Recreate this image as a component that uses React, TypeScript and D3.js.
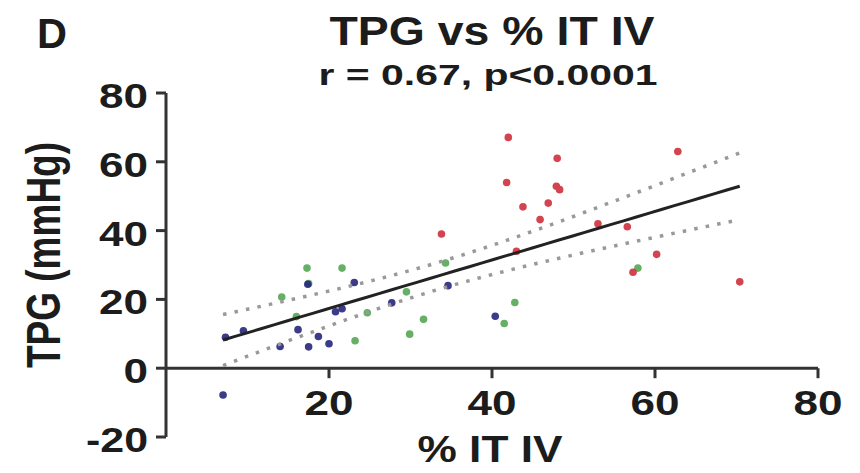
import React from "react";
import * as d3 from "d3";

// Scatter of TPG against % IT IV, three patient groups
const blueX = [7.0, 7.3, 9.5, 14.0, 16.2, 17.5, 18.7, 20.0, 20.8, 21.6, 23.1, 27.7, 34.6, 40.4, 17.4];
const blueY = [-7.8, 9.0, 10.9, 6.3, 11.2, 6.2, 9.2, 7.1, 16.4, 17.3, 24.9, 19.0, 24.0, 15.1, 24.4];

const greenX = [14.2, 16.0, 17.3, 17.5, 21.6, 23.2, 24.7, 29.5, 29.9, 31.6, 34.3, 41.5, 42.8, 57.9];
const greenY = [20.7, 15.0, 29.1, 24.6, 29.1, 8.0, 16.1, 22.2, 9.9, 14.2, 30.6, 13.0, 19.1, 29.1];

const redX = [33.8, 42.0, 41.8, 43.0, 43.8, 45.9, 46.9, 48.0, 47.9, 48.3, 53.0, 56.6, 57.3, 60.2, 62.8, 70.4];
const redY = [39.0, 67.1, 54.0, 34.0, 46.9, 43.2, 48.0, 61.0, 52.9, 51.9, 42.0, 41.1, 27.9, 33.1, 63.0, 25.1];

const xTicks = [20, 40, 60, 80];
const yTicks = [-20, 0, 20, 40, 60, 80];

const panelLabel = "D";
const title = "TPG vs % IT IV";
const subtitle = "r = 0.67, p<0.0001";
const xLabel = "% IT IV";
const yLabel = "TPG (mmHg)";

const FONT = "'Liberation Sans', Arial, Helvetica, sans-serif";
const INK = "#1c1c1c";

type Pt = [number, number];
const zip = (xs: number[], ys: number[]): Pt[] => xs.map((x, i) => [x, ys[i]]);

// tick labels are drawn horizontally widened; width per character class
const tickWidth = (label: string) =>
  label.split("").reduce((w, c) => w + (c === "-" ? 13 : 24.5), 0);

export default function App() {
  const W = 860;
  const H = 473;
  const x = d3.scaleLinear().domain([0, 80]).range([166, 818]);
  const y = d3.scaleLinear().domain([-20, 80]).range([437, 93]);

  const groups = [
    { pts: zip(greenX, greenY), color: "#55a855" },
    { pts: zip(blueX, blueY), color: "#26267e" },
    { pts: zip(redX, redY), color: "#d0303e" },
  ];

  // least-squares fit with 95% confidence band of the mean
  const all: Pt[] = groups.flatMap((g) => g.pts);
  const n = all.length;
  const mx = d3.mean(all, (d) => d[0])!;
  const my = d3.mean(all, (d) => d[1])!;
  const sxx = d3.sum(all, (d) => (d[0] - mx) ** 2);
  const sxy = d3.sum(all, (d) => (d[0] - mx) * (d[1] - my));
  const slope = sxy / sxx;
  const icpt = my - slope * mx;
  const sse = d3.sum(all, (d) => (d[1] - (icpt + slope * d[0])) ** 2);
  const s = Math.sqrt(sse / (n - 2));
  const t = 2.02;
  const [x0, x1] = d3.extent(all, (d) => d[0]) as [number, number];
  const xs = d3.range(0, 41).map((i) => x0 + ((x1 - x0) * i) / 40);
  const half = (v: number) => t * s * Math.sqrt(1 / n + (v - mx) ** 2 / sxx);

  const line = d3
    .line<number>()
    .x((v) => x(v))
    .y((v) => y(icpt + slope * v));
  const upper = d3
    .line<number>()
    .x((v) => x(v))
    .y((v) => y(icpt + slope * v + half(v)));
  const lower = d3
    .line<number>()
    .x((v) => x(v))
    .y((v) => y(icpt + slope * v - half(v)));

  const axisX = x(0);
  const axisY = y(0);

  return (
    <svg
      width={W}
      height={H}
      style={{ position: "absolute", left: 0, top: 0, background: "#fff" }}
      fontFamily={FONT}
      fontWeight="bold"
      fill={INK}
    >
      <rect width={W} height={H} fill="#fff" />

      <text x={37} y={48} fontSize={42} textLength={30} lengthAdjust="spacingAndGlyphs">
        {panelLabel}
      </text>
      <text x={492} y={45} fontSize={40} textAnchor="middle" textLength={325} lengthAdjust="spacingAndGlyphs">
        {title}
      </text>
      <text x={488} y={85} fontSize={30} textAnchor="middle" textLength={339} lengthAdjust="spacingAndGlyphs">
        {subtitle}
      </text>

      {/* axes */}
      <g stroke="#333" strokeWidth={3} fill="none">
        <line x1={axisX} x2={axisX} y1={y(80)} y2={y(-20)} />
        {yTicks.map((v) => (
          <line key={v} x1={axisX - 10} x2={axisX} y1={y(v)} y2={y(v)} />
        ))}
        <line x1={axisX} x2={x(80)} y1={axisY} y2={axisY} />
        {xTicks.map((v) => (
          <line key={v} x1={x(v)} x2={x(v)} y1={axisY} y2={axisY + 10} />
        ))}
      </g>
      {yTicks.map((v) => (
        <text
          key={v}
          x={148}
          y={y(v) + 15}
          fontSize={35}
          textAnchor="end"
          textLength={tickWidth(String(v))}
          lengthAdjust="spacingAndGlyphs"
        >
          {v}
        </text>
      ))}
      {xTicks.map((v) => (
        <text
          key={v}
          x={x(v)}
          y={415}
          fontSize={35}
          textAnchor="middle"
          textLength={tickWidth(String(v))}
          lengthAdjust="spacingAndGlyphs"
        >
          {v}
        </text>
      ))}
      <text x={490} y={462} fontSize={36} textAnchor="middle" textLength={145} lengthAdjust="spacingAndGlyphs">
        {xLabel}
      </text>
      <text
        transform="translate(60,255) scale(1.3,1) rotate(-90)"
        fontSize={37}
        textAnchor="middle"
      >
        {yLabel}
      </text>

      {/* points */}
      {groups.map((g, gi) => (
        <g key={gi} fill={g.color} opacity={0.9}>
          {g.pts.map((d, i) => (
            <circle key={i} cx={x(d[0])} cy={y(d[1])} r={3.8} />
          ))}
        </g>
      ))}

      {/* fit and confidence band */}
      <path d={upper(xs)!} fill="none" stroke="#999" strokeWidth={3.5} strokeDasharray="3.5 8.2" />
      <path d={lower(xs)!} fill="none" stroke="#999" strokeWidth={3.5} strokeDasharray="3.5 8.2" />
      <path d={line(xs)!} fill="none" stroke="#222" strokeWidth={3} />
    </svg>
  );
}
